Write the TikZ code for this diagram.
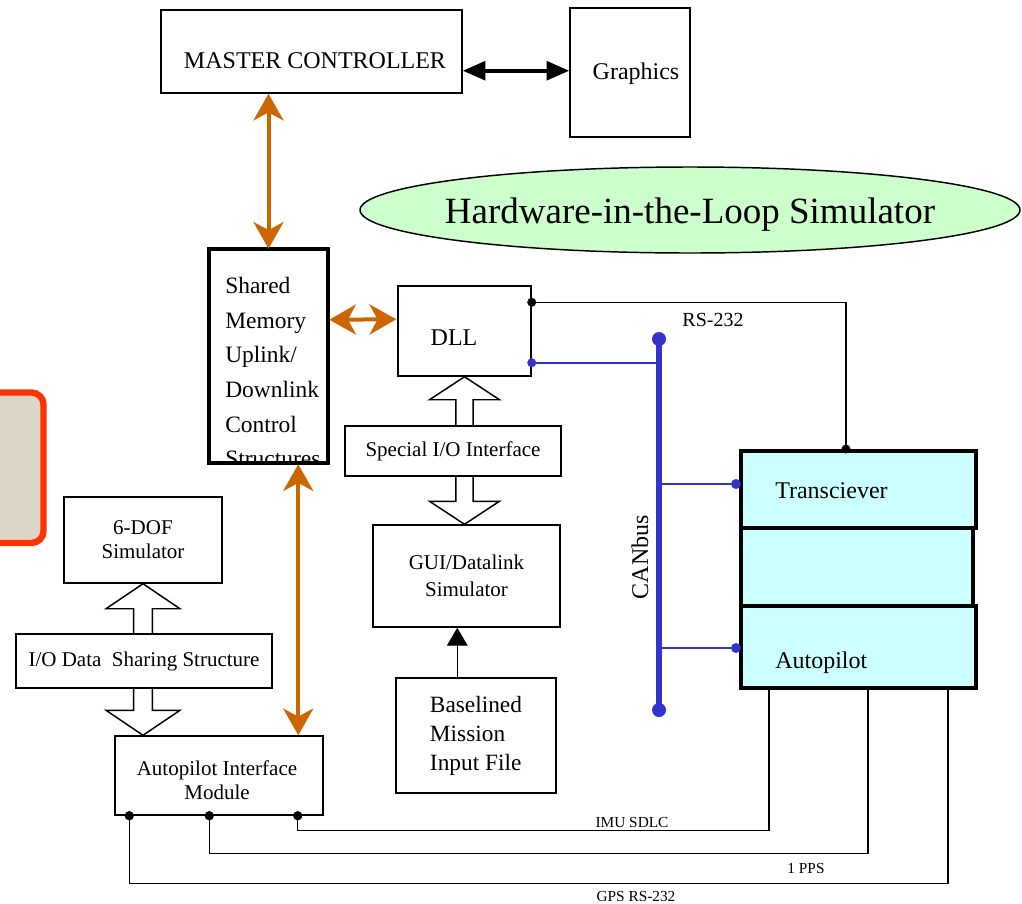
\documentclass[tikz,border=0pt]{standalone}
\usepackage{fontspec}
\setmainfont{Liberation Serif}
\usetikzlibrary{arrows.meta,calc,shapes.geometric}
\definecolor{org}{HTML}{CC6600}
\definecolor{bl}{HTML}{3333CC}
\definecolor{cy}{HTML}{CCFFFF}
\definecolor{gr}{HTML}{CCFFCC}
\definecolor{rd}{HTML}{FF3300}
\definecolor{bgc}{HTML}{DDD5C6}
\tikzset{
  wh/.style 2 args={minimum width=#1*0.75pt, minimum height=#2*0.75pt},
  box/.style={draw, line width=1.1pt, fill=white, inner sep=0pt, align=center,
              font=\fontsize{15.75pt}{18pt}\selectfont},
  fbig/.style={font=\fontsize{18pt}{21pt}\selectfont, inner sep=0pt},
  tbox/.style={draw, line width=3pt, fill=cy, inner sep=0pt},
  oarrow/.style={draw=org, line width=3pt,
     {Stealth[length=20pt,width=22.5pt,inset=6pt]}-{Stealth[length=20pt,width=22.5pt,inset=6pt]}},
  hollow/.style={draw, line width=1.1pt, fill=white, line join=miter},
  wire/.style={draw, line width=0.9pt},
  bwire/.style={draw=bl, line width=1.2pt},
  dot/.style={circle, fill, inner sep=0pt, minimum size=6.75pt},
  bdot/.style={circle, fill=bl, inner sep=0pt, minimum size=7.5pt},
  small/.style={font=\fontsize{11.5pt}{12pt}\selectfont, inner sep=0pt}
}
% double hollow block arrow: #1 top tip, #2 bottom tip (y), #3 half shaft, #4 half head, #5 head length
\newcommand\hollowdbl[5]{%
\path[hollow] let \p1=(#1), \p2=(#2) in
 (\x1,\y1) -- (\x1+#4,\y1-#5) -- (\x1+#3,\y1-#5) -- (\x1+#3,\y2+#5) -- (\x1+#4,\y2+#5) -- (\x1,\y2)
 -- (\x1-#4,\y2+#5) -- (\x1-#3,\y2+#5) -- (\x1-#3,\y1-#5) -- (\x1-#4,\y1-#5) -- cycle;}
\begin{document}
\begin{tikzpicture}[x=0.75pt,y=-0.75pt]

\clip (0,0) rectangle (1022,904);
\fill[white] (0,0) rectangle (1022,904);

% partial red rounded panel at left edge
\draw[rd, fill=bgc, line width=4.8pt, rounded corners=9pt] (-30,392.5) rectangle (43.5,543);

% top row
\node[box, wh={301}{83}] (master) at (311.5,51.5) {};
\node[fbig] (masterT) at (315,61) {MASTER CONTROLLER};
\node[box, wh={120}{129}] (graph) at (630,72.5) {};
\node[fbig] (graphT) at (636,74) {Graphics};
\coordinate (mg) at ($(master.south east)+(0,-23)$);
\draw[line width=3pt, {Triangle[length=17pt,width=14pt]}-{Triangle[length=17pt,width=14pt]}]
  (mg) -- (mg -| graph.west);

% title ellipse
\node[inner sep=0pt, font=\fontsize{27.75pt}{30pt}\selectfont] (hil) at (690,210) {\phantom{Hardware-in-the-Loop Simulator}};
\draw[fill=gr, line width=1.1pt] (hil.center) ellipse [x radius=330, y radius=43];
\node[inner sep=0pt, font=\fontsize{27.75pt}{30pt}\selectfont] (hilT) at ($(hil.center)+(0,5)$) {Hardware-in-the-Loop Simulator};

% shared memory
\node[wh={119}{214}, inner sep=0pt] (smem) at (268.5,356) {};
\begin{scope}
\clip (smem.south west) rectangle (smem.north east);
\node[font=\fontsize{17.6pt}{26pt}\selectfont, align=left, anchor=north west, inner sep=0pt] (smemT) at (225,277)
  {Shared\\Memory\\Uplink/\\Downlink\\Control\\Structures};
\end{scope}
\draw[line width=3pt] (smem.south west) rectangle (smem.north east);

% DLL
\node[box, wh={133}{90}] (dll) at (464.5,331) {};
\node[fbig] (dllT) at (454,338) {DLL};

\draw[oarrow] (master.south -| smem.north) -- (smem.north);
\draw[oarrow] ($(smem.north east)+(1,71)$) -- ($(dll.north west)+(-1,34)$);

% GUI, 6-DOF, AIM
\node[box, wh={187}{102}, font=\fontsize{15.75pt}{20.25pt}\selectfont] (gui) at (466.5,576) {GUI/Datalink\\Simulator};
\node[box, wh={158}{86}] (dof) at (143,540) {6-DOF\\Simulator};
\node[box, wh={208}{79}] (aim) at (219,775.5) {};
\node[font=\fontsize{15.75pt}{18pt}\selectfont, align=center, inner sep=0pt] (aimT) at (217,780) {Autopilot Interface\\Module};

% hollow block arrows
\hollowdbl{dll.south}{gui.north}{6.5pt}{26.25pt}{17.25pt}
\hollowdbl{dof.south}{aim.north}{7.1pt}{27.75pt}{18.75pt}

\node[box, wh={216}{50}] (sio) at (453,451) {Special I/O Interface};
\node[box, wh={256}{54}] (iod) at (144,661) {I/O Data~ Sharing Structure};

% Baselined mission input file
\node[box, wh={160}{115}, align=left, font=\fontsize{17.5pt}{21.75pt}\selectfont] (bas) at (476,735.5)
  {Baselined\\Mission\\Input File};
\coordinate (ba) at ($(bas.north west)+(62,0)$);
\draw[line width=1.1pt, -{Triangle[length=13.5pt,width=15.5pt]}] (ba) -- (ba |- gui.south);

% lower orange arrow
\coordinate (o1) at ($(smem.south east)+(-30,1)$);
\draw[oarrow] (o1) -- (o1 |- aim.north);

% transceiver / autopilot stack
\node[tbox, wh={235}{77}] (tr) at (858.5,489.5) {};
\node[tbox, wh={232}{78}] (mid) at (857,567) {};
\node[tbox, wh={235}{82}] (ap) at (858.5,647) {};
\node[fbig, anchor=west] (trT) at (775,491) {Transciever};
\node[fbig, anchor=west] (apT) at (775,663) {Autopilot};

% RS-232 link
\coordinate (d1) at ($(dll.north east)+(0,17)$);
\coordinate (trin) at ($(tr.north west)+(107,0)$);
\draw[wire] (d1) -| (trin);
\node[dot] (d1dot) at (d1) {};
\node[dot] (trdot) at (trin) {};
\node[font=\fontsize{15pt}{17pt}\selectfont, inner sep=0pt] (rsT) at (713,320) {RS-232};

% CAN bus
\coordinate (bt) at (659,339);
\coordinate (bb) at (659,710);
\coordinate (d2) at ($(dll.south east)+(0,-14)$);
\coordinate (tb) at ($(tr.north west)+(-3,35)$);
\coordinate (ab) at ($(ap.north west)+(-3,44)$);
\draw[bwire] (d2) -- (d2 -| bt);
\draw[bwire] (tb -| bt) -- (tb);
\draw[bwire] (ab -| bt) -- (ab);
\draw[bl, line width=5pt] (bt) -- (bb);
\node[circle, fill=bl, inner sep=0pt, minimum size=10.5pt] (btdot) at (bt) {};
\node[circle, fill=bl, inner sep=0pt, minimum size=10.5pt] (bbdot) at (bb) {};
\node[bdot, minimum size=6.75pt] (d2dot) at (d2) {};
\node[bdot] (tbdot) at (tb) {};
\node[bdot] (abdot) at (ab) {};
\node[rotate=90, fbig] (canT) at (640,557) {CANbus};

% bottom wires
\coordinate (a1) at ($(aim.south west)+(15,0)$);
\coordinate (a2) at ($(aim.south west)+(95,0)$);
\coordinate (a3) at ($(aim.south east)+(-26,0)$);
\draw[wire] (a3) -- ++(0,15) -| ($(ap.south west)+(30,0)$);
\draw[wire] (a2) -- ++(0,38) -| ($(ap.south west)+(129,0)$);
\draw[wire] (a1) -- ++(0,68) -| ($(ap.south west)+(209,0)$);
\node[dot, minimum size=7pt] (a1dot) at (a1) {};
\node[dot, minimum size=7pt] (a2dot) at (a2) {};
\node[dot, minimum size=7pt] (a3dot) at (a3) {};
\node[small] (imuT) at (632,822) {IMU SDLC};
\node[small] (ppsT) at (806,868) {1 PPS};
\node[small] (gpsT) at (636,896) {GPS RS-232};
\end{tikzpicture}
\end{document}
